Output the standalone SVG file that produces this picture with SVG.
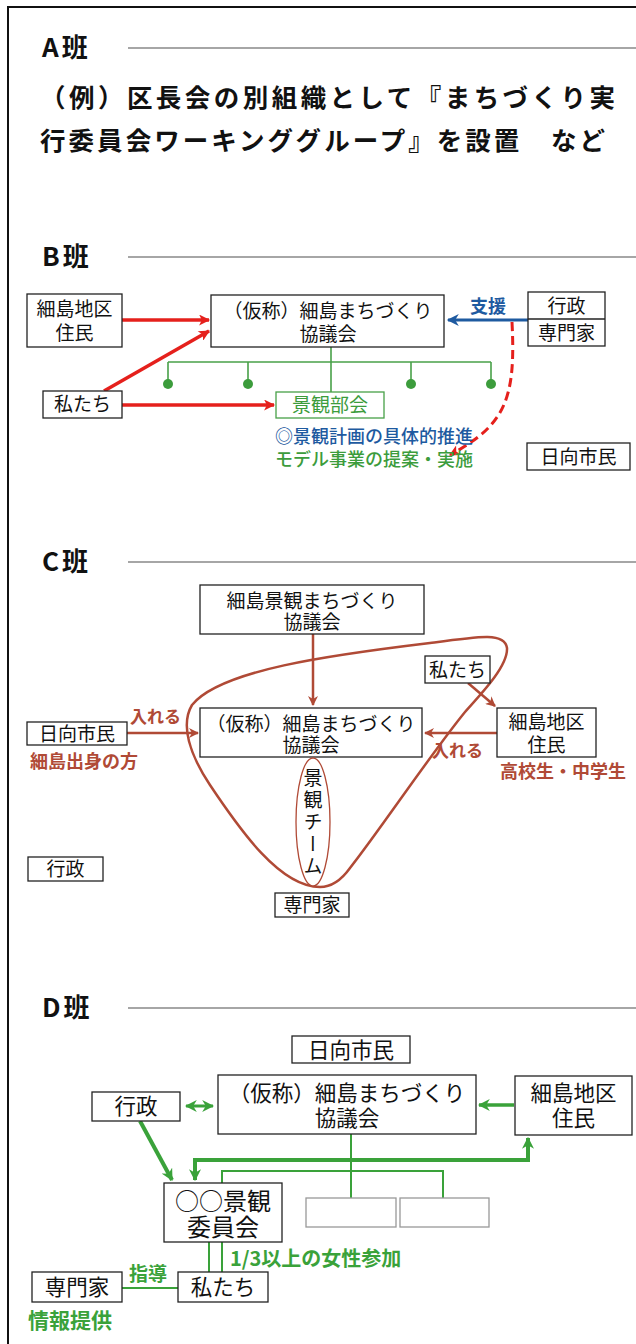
<svg xmlns="http://www.w3.org/2000/svg" width="636" height="1344" viewBox="0 0 636 1344">
<defs>
<style>
text{font-family:"Noto Sans CJK JP","Noto Sans CJK SC",sans-serif;fill:#111}
.h{font-size:26px;font-weight:bold;letter-spacing:3px}
.a{font-size:25.5px;font-weight:bold}
.rule{stroke:#888;stroke-width:1.5}
.box{fill:#fff;stroke:#222;stroke-width:1.3}
.t19{font-size:19px;text-anchor:middle}
.t21{font-size:21.5px;text-anchor:middle}
.red{stroke:#e5201c;stroke-width:3.5;fill:none}
.grn{stroke:#48a048;stroke-width:1.6;fill:none}
.brn{stroke:#b04a36;stroke-width:2.5;fill:none}
.dg{stroke:#3aa23a;fill:none}
</style>
<marker id="mr" viewBox="0 0 10 10" refX="9" refY="5" markerUnits="userSpaceOnUse" markerWidth="13" markerHeight="11" orient="auto"><path d="M0,0 L10,5 L0,10 L2.5,5 z" fill="#e5201c"/></marker>
<marker id="mb" viewBox="0 0 10 10" refX="9" refY="5" markerUnits="userSpaceOnUse" markerWidth="13" markerHeight="12" orient="auto"><path d="M0,0 L10,5 L0,10 L3,5 z" fill="#1e5aa0"/></marker>
<marker id="mrd" viewBox="0 0 10 10" refX="9" refY="5" markerUnits="userSpaceOnUse" markerWidth="12" markerHeight="11" orient="auto"><path d="M0,0 L10,5 L0,10 L2.5,5 z" fill="#e5201c"/></marker>
<marker id="mn" viewBox="0 0 10 10" refX="9" refY="5" markerUnits="userSpaceOnUse" markerWidth="11" markerHeight="10" orient="auto"><path d="M0,0 L10,5 L0,10 L3,5 z" fill="#b04a36"/></marker>
<marker id="mg" viewBox="0 0 10 10" refX="9" refY="5" markerUnits="userSpaceOnUse" markerWidth="12" markerHeight="12" orient="auto"><path d="M0,0 L10,5 L0,10 L3,5 z" fill="#3aa23a"/></marker>
<marker id="mgs" viewBox="0 0 10 10" refX="1" refY="5" markerUnits="userSpaceOnUse" markerWidth="12" markerHeight="12" orient="auto"><path d="M10,0 L0,5 L10,10 L7,5 z" fill="#3aa23a"/></marker>
</defs>
<rect width="636" height="1344" fill="#fff"/>
<path d="M8 1344 V7 H636" fill="none" stroke="#111" stroke-width="2"/>

<!-- A -->
<g id="A">
<text class="h" x="42" y="57">A班</text>
<line class="rule" x1="128" y1="48" x2="636" y2="48"/>
<text class="a" x="40" y="107" textLength="575" lengthAdjust="spacing">（例）区長会の別組織として『まちづくり実</text>
<text class="a" x="40" y="150" textLength="565" lengthAdjust="spacing">行委員会ワーキンググループ』を設置　など</text>
</g>

<!-- B -->
<g id="B-head">
<text class="h" x="42" y="266">B班</text>
<line class="rule" x1="128" y1="257" x2="636" y2="257"/>
</g>
<g id="B-connectors">
<line class="red" x1="122" y1="320" x2="209" y2="320" marker-end="url(#mr)"/>
<line class="red" x1="104" y1="391" x2="209" y2="331" marker-end="url(#mr)"/>
<line class="red" x1="122" y1="405" x2="274" y2="405" marker-end="url(#mr)"/>
<line x1="528" y1="320" x2="448" y2="320" stroke="#1e5aa0" stroke-width="3" marker-end="url(#mb)"/>
<path d="M512 322 C516 400 505 425 450 455" fill="none" stroke="#e5201c" stroke-width="3" stroke-dasharray="9 5" marker-end="url(#mrd)"/>
<line class="grn" x1="331" y1="347" x2="331" y2="393"/>
<line class="grn" x1="168" y1="362" x2="491" y2="362"/>
<line class="grn" x1="168" y1="362" x2="168" y2="382"/>
<line class="grn" x1="248" y1="362" x2="248" y2="382"/>
<line class="grn" x1="411" y1="362" x2="411" y2="382"/>
<line class="grn" x1="491" y1="362" x2="491" y2="382"/>
<g fill="#3c9c3c"><circle cx="168" cy="384" r="5"/><circle cx="248" cy="384" r="5"/><circle cx="411" cy="384" r="5"/><circle cx="491" cy="384" r="5"/></g>
</g>
<g id="B-hosojima">
<rect class="box" x="27" y="294" width="95" height="53"/>
<text class="t19"><tspan x="74.5" y="316">細島地区</tspan><tspan x="74.5" y="340">住民</tspan></text>
</g>
<g id="B-council">
<rect class="box" x="211" y="295" width="233" height="52"/>
<text class="t19"><tspan x="328" y="318">（仮称）細島まちづくり</tspan><tspan x="328" y="341">協議会</tspan></text>
</g>
<g id="B-gyosei">
<rect class="box" x="528" y="292" width="77" height="54"/>
<line x1="528" y1="319" x2="605" y2="319" stroke="#222" stroke-width="1.3"/>
<text class="t19"><tspan x="566.5" y="313">行政</tspan><tspan x="566.5" y="340">専門家</tspan></text>
<text x="470" y="313" style="font-size:18px;font-weight:bold;fill:#1e5aa0">支援</text>
</g>
<g id="B-watashi">
<rect class="box" x="43" y="391" width="79" height="27"/>
<text class="t19" x="82.5" y="411">私たち</text>
</g>
<g id="B-keikan">
<rect x="276" y="392" width="108" height="26" fill="#fff" stroke="#48a048" stroke-width="1.3"/>
<text class="t19" x="330" y="412" style="fill:#3c9c3c">景観部会</text>
<text style="font-size:18px;font-weight:500"><tspan x="275" y="443" style="fill:#1e5aa0">◎景観計画の具体的推進</tspan><tspan x="275" y="466" style="fill:#3c9c3c">モデル事業の提案・実施</tspan></text>
</g>
<g id="B-hyuga">
<rect class="box" x="527" y="443" width="103" height="27"/>
<text class="t19" x="578.5" y="464">日向市民</text>
</g>

<!-- C -->
<g id="C-head">
<text class="h" x="42" y="571">C班</text>
<line class="rule" x1="128" y1="562" x2="636" y2="562"/>
</g>
<g id="C-connectors">
<path class="brn" d="M320 887 C280 887 240 830 210 785 C190 755 180 725 192 705 C220 670 330 655 430 643 C480 636 505 632 507 648 C508 665 485 690 465 712 C430 755 380 830 350 868 C340 882 330 887 320 887 Z"/>
<line class="brn" x1="313" y1="634" x2="313" y2="705" marker-end="url(#mn)"/>
<line class="brn" x1="468" y1="683" x2="495" y2="706" marker-end="url(#mn)"/>
<line class="brn" x1="127" y1="733" x2="198" y2="733" marker-end="url(#mn)"/>
<line class="brn" x1="497" y1="733" x2="425" y2="733" marker-end="url(#mn)"/>
</g>
<g id="C-keikan-council">
<rect class="box" x="200" y="585" width="224" height="49"/>
<text class="t19"><tspan x="312" y="608">細島景観まちづくり</tspan><tspan x="312" y="629">協議会</tspan></text>
</g>
<g id="C-council">
<rect class="box" x="200" y="708" width="222" height="49"/>
<text class="t19"><tspan x="311" y="731">（仮称）細島まちづくり</tspan><tspan x="311" y="752">協議会</tspan></text>
</g>
<g id="C-watashi">
<rect class="box" x="425" y="656" width="65" height="27"/>
<text class="t19" x="457.5" y="677">私たち</text>
</g>
<g id="C-hosojima">
<rect class="box" x="497" y="708" width="99" height="49"/>
<text class="t19"><tspan x="546.5" y="729">細島地区</tspan><tspan x="546.5" y="752">住民</tspan></text>
<text x="500" y="778" style="font-size:18px;font-weight:bold;fill:#b04a36">高校生・中学生</text>
</g>
<g id="C-hyuga">
<rect class="box" x="27" y="722" width="100" height="23"/>
<text class="t19" x="77" y="741">日向市民</text>
<text x="30" y="768" style="font-size:18px;font-weight:bold;fill:#b04a36">細島出身の方</text>
</g>
<g id="C-labels">
<text x="130" y="723" style="font-size:17px;font-weight:bold;fill:#b04a36">入れる</text>
<text x="432" y="757" style="font-size:17px;font-weight:bold;fill:#b04a36">入れる</text>
</g>
<g id="C-team">
<ellipse cx="313" cy="822" rx="17" ry="64" fill="#fff" stroke="#b04a36" stroke-width="1.3"/>
<text x="313" y="768" style="font-size:19px;writing-mode:vertical-rl;letter-spacing:3px">景観チーム</text>
</g>
<g id="C-gyosei">
<rect class="box" x="28" y="857" width="75" height="24"/>
<text class="t19" x="65.5" y="876">行政</text>
</g>
<g id="C-senmon">
<rect class="box" x="275" y="893" width="74" height="24"/>
<text class="t19" x="312" y="912">専門家</text>
</g>

<!-- D -->
<g id="D-head">
<text class="h" x="42" y="1017">D班</text>
<line class="rule" x1="128" y1="1008" x2="636" y2="1008"/>
</g>
<g id="D-connectors">
<line class="dg" stroke-width="3" x1="186" y1="1106" x2="213" y2="1106" marker-start="url(#mgs)" marker-end="url(#mg)"/>
<line class="dg" stroke-width="3.5" x1="514" y1="1105" x2="479" y2="1105" marker-end="url(#mg)"/>
<line class="dg" stroke-width="2" x1="351" y1="1134" x2="351" y2="1198"/>
<polyline class="dg" stroke-width="4" points="195,1180 195,1160 528,1160 528,1139"/>
<line class="dg" stroke-width="4" x1="195" y1="1162" x2="195" y2="1180" marker-end="url(#mg)"/>
<line class="dg" stroke-width="4" x1="528" y1="1158" x2="528" y2="1138" marker-end="url(#mg)"/>
<line class="dg" stroke-width="4" x1="140" y1="1121" x2="172" y2="1180" marker-end="url(#mg)"/>
<polyline class="dg" stroke-width="2" points="222,1183 222,1171 443,1171 443,1198"/>
<line class="dg" stroke-width="2" x1="209" y1="1242" x2="209" y2="1272"/>
<line class="dg" stroke-width="2" x1="222" y1="1242" x2="222" y2="1272"/>
<line class="dg" stroke-width="2" x1="122" y1="1288" x2="178" y2="1288"/>
</g>
<g id="D-hyuga">
<rect class="box" x="292" y="1036" width="118" height="27"/>
<text class="t21" x="351" y="1058">日向市民</text>
</g>
<g id="D-gyosei">
<rect class="box" x="92" y="1092" width="88" height="29"/>
<text class="t21" x="136" y="1114">行政</text>
</g>
<g id="D-council">
<rect class="box" x="218" y="1075" width="258" height="59"/>
<text class="t21"><tspan x="347" y="1101">（仮称）細島まちづくり</tspan><tspan x="347" y="1126">協議会</tspan></text>
</g>
<g id="D-hosojima">
<rect class="box" x="515" y="1076" width="117" height="59"/>
<text class="t21"><tspan x="573.5" y="1101">細島地区</tspan><tspan x="573.5" y="1126">住民</tspan></text>
</g>
<g id="D-iinkai">
<rect class="box" x="164" y="1183" width="118" height="59"/>
<text style="font-size:24px;text-anchor:middle"><tspan x="223" y="1210">○○景観</tspan><tspan x="223" y="1236">委員会</tspan></text>
</g>
<g id="D-empty">
<rect x="306" y="1198" width="90" height="29" fill="#fff" stroke="#999" stroke-width="1.3"/>
<rect x="400" y="1198" width="89" height="29" fill="#fff" stroke="#999" stroke-width="1.3"/>
</g>
<g id="D-watashi">
<rect class="box" x="178" y="1272" width="90" height="30"/>
<text class="t21" x="223" y="1295">私たち</text>
<text x="230" y="1266" style="font-size:20px;font-weight:bold;fill:#3aa23a">1/3以上の女性参加</text>
</g>
<g id="D-senmon">
<rect class="box" x="32" y="1272" width="90" height="30"/>
<text class="t21" x="77" y="1295">専門家</text>
<text x="129" y="1281" style="font-size:19px;font-weight:bold;fill:#3aa23a">指導</text>
<text x="28" y="1328" style="font-size:21px;font-weight:bold;fill:#3aa23a">情報提供</text>
</g>
</svg>
